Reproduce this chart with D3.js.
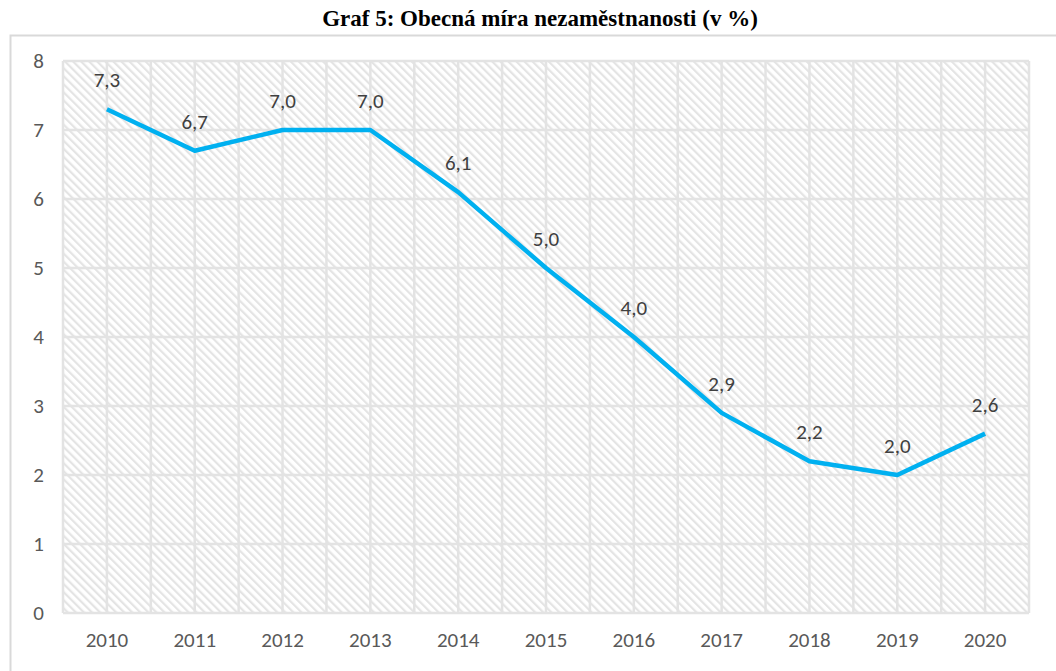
<!DOCTYPE html>
<html>
<head>
<meta charset="utf-8">
<script src="https://cdn.jsdelivr.net/npm/d3@7"></script>
<style>
  body { margin: 0; background: #fff; }
  svg { display: block; }
</style>
</head>
<body>
<div id="chart"></div>
<script>
const years = ["2010","2011","2012","2013","2014","2015","2016","2017","2018","2019","2020"];
const rates = [7.3, 6.7, 7.0, 7.0, 6.1, 5.0, 4.0, 2.9, 2.2, 2.0, 2.6];
const yTicks = [0, 1, 2, 3, 4, 5, 6, 7, 8];

const fullW = 1056, fullH = 671;
const margin = { top: 61, right: 27, bottom: 58, left: 63 };
const w = fullW - margin.left - margin.right;
const h = fullH - margin.top - margin.bottom;

const svg = d3.select("#chart").append("svg")
  .attr("width", fullW)
  .attr("height", fullH);

// hatch pattern for plot area
const defs = svg.append("defs");
const pat = defs.append("pattern")
  .attr("id", "hatch")
  .attr("patternUnits", "userSpaceOnUse")
  .attr("width", 5.7)
  .attr("height", 5.7)
  .attr("patternTransform", "rotate(-45)");
pat.append("rect").attr("width", 5.7).attr("height", 5.7).attr("fill", "#fff");
pat.append("rect").attr("x", 0).attr("width", 2.2).attr("height", 5.7).attr("fill", "#e4e4e4");

// outer chart border
svg.append("rect")
  .attr("x", 10.5).attr("y", 35.5)
  .attr("width", 1060).attr("height", 660)
  .attr("fill", "none")
  .attr("stroke", "#d9d9d9")
  .attr("stroke-width", 2);

// title
svg.append("text")
  .attr("x", 540)
  .attr("y", 26)
  .attr("text-anchor", "middle")
  .attr("font-family", "'Liberation Serif', 'Times New Roman', serif")
  .attr("font-weight", "bold")
  .attr("font-size", 23)
  .attr("fill", "#000")
  .text("Graf 5: Obecná míra nezaměstnanosti (v %)");

const g = svg.append("g").attr("transform", `translate(${margin.left},${margin.top})`);

// scales
const x = d3.scaleBand().domain(years).range([0, w]);
const y = d3.scaleLinear().domain([0, 8]).range([h, 0]);
const cx = d => x(d) + x.bandwidth() / 2;

// plot background
g.append("rect")
  .attr("width", w).attr("height", h)
  .attr("fill", "url(#hatch)");

// vertical gridlines (category centres and boundaries)
const vLines = [];
years.forEach(yr => { vLines.push(x(yr)); vLines.push(cx(yr)); });
vLines.push(w);
g.append("g").selectAll("line")
  .data(vLines)
  .join("line")
  .attr("x1", d => d).attr("x2", d => d)
  .attr("y1", 0).attr("y2", h)
  .attr("stroke", "#e3e3e3")
  .attr("stroke-width", 2.5);

// horizontal gridlines
g.append("g").selectAll("line")
  .data(yTicks)
  .join("line")
  .attr("x1", 0).attr("x2", w)
  .attr("y1", d => y(d)).attr("y2", d => y(d))
  .attr("stroke", "#e3e3e3")
  .attr("stroke-width", 2.5);

// axes
const font = "Carlito, Calibri, 'Open Sans', sans-serif";
const yAxis = g.append("g")
  .call(d3.axisLeft(y).tickValues(yTicks).tickSize(0).tickPadding(19).tickFormat(d3.format("d")));
yAxis.select(".domain").remove();
yAxis.selectAll("text")
  .attr("font-family", font)
  .attr("font-size", 21)
  .attr("fill", "#595959");

const xAxis = g.append("g")
  .attr("transform", `translate(0,${h})`)
  .call(d3.axisBottom(x).tickSize(0).tickPadding(19));
xAxis.select(".domain").remove();
xAxis.selectAll("text")
  .attr("font-family", font)
  .attr("font-size", 21)
  .attr("fill", "#595959");

// line
const data = years.map((yr, i) => ({ year: yr, value: rates[i] }));
g.append("path")
  .datum(data)
  .attr("fill", "none")
  .attr("stroke", "#00b0f0")
  .attr("stroke-width", 4.5)
  .attr("stroke-linejoin", "round")
  .attr("d", d3.line().x(d => cx(d.year)).y(d => y(d.value)));

// data labels
const fmt = v => d3.format(".1f")(v).replace(".", ",");
g.append("g").selectAll("text")
  .data(data)
  .join("text")
  .attr("x", d => cx(d.year))
  .attr("y", d => y(d.value) - 22)
  .attr("text-anchor", "middle")
  .attr("font-family", font)
  .attr("font-size", 21)
  .attr("fill", "#404040")
  .text(d => fmt(d.value));
</script>
</body>
</html>
